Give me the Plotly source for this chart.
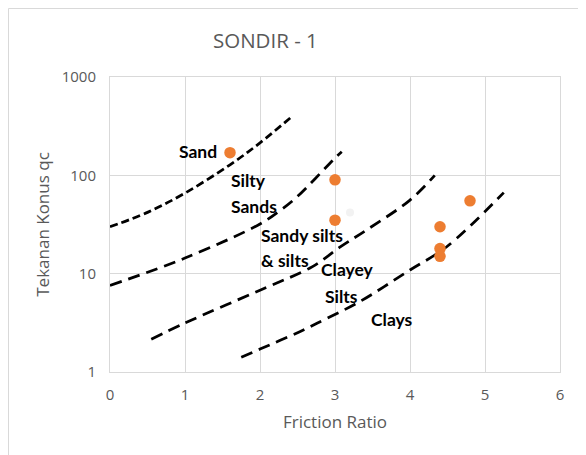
import math
import plotly.graph_objects as go

# ---- data ----
point_fr = [1.6, 3.0, 3.0, 4.4, 4.4, 4.4, 4.8]
point_qc = [170, 90, 35, 30, 18, 15, 55]
faint_fr = [3.2]
faint_qc = [42]

c1_x = [0.0, 0.5, 1.0, 1.6, 2.0, 2.44]
c1_y = [30, 42, 66, 128, 214, 405]
c2_x = [0.0, 1.0, 2.0, 2.27, 2.5, 3.0, 3.09]
c2_y = [7.6, 14.4, 32, 44, 61, 150, 174]
c3_x = [0.55, 1.0, 2.0, 2.7, 3.07, 3.42, 4.0, 4.33]
c3_y = [2.15, 3.15, 6.8, 11.8, 18.7, 27.8, 56, 100]
c4_x = [1.75, 2.0, 2.53, 2.76, 3.33, 4.0, 4.49, 5.25]
c4_y = [1.41, 1.71, 2.57, 3.13, 5.2, 10.9, 18.8, 66.7]

zone_labels = ["Sand", "Silty", "Sands", "Sandy silts", "& silts", "Clayey", "Silts", "Clays"]
label_x = [0.89, 1.587, 1.587, 1.987, 1.987, 2.787, 2.84, 3.453]
label_y = [173, 88, 48, 24.2, 13.6, 10.9, 5.9, 3.4]

x_ticks = [0, 1, 2, 3, 4, 5, 6]
y_ticks = [1, 10, 100, 1000]
y_ticktext = ["1", "10", "100", "1000"]

# page body adds an 8px offset; compensate
OFF = 8
W, H = 586 - OFF, 455 - OFF
L, R, T, B = 110 - OFF, 560 - OFF, 77 - OFF, 372 - OFF

fig = go.Figure()
curves = [(c1_x, c1_y, "8px,4px"), (c2_x, c2_y, "12px,7px"),
          (c3_x, c3_y, "12px,7px"), (c4_x, c4_y, "12px,7px")]
for cx, cy, d in curves:
    fig.add_trace(go.Scatter(x=cx, y=cy, mode="lines",
                             line=dict(color="black", width=2.75, dash=d, shape="spline"),
                             hoverinfo="skip", showlegend=False))

fig.add_trace(go.Scatter(x=faint_fr, y=faint_qc, mode="markers",
                         marker=dict(color="#F2F2F2", size=8), showlegend=False))
fig.add_trace(go.Scatter(x=point_fr, y=point_qc, mode="markers",
                         marker=dict(color="#ED7D31", size=11.5), showlegend=False))

for t, x, y in zip(zone_labels, label_x, label_y):
    fig.add_annotation(x=x, y=math.log10(y), yref="y", xref="x", text="<b>%s</b>" % t,
                       showarrow=False, xanchor="left", yanchor="middle",
                       font=dict(family="Lato, Noto Sans, sans-serif", size=17.5, color="black"))

grey = "#595959"
gridc = "#D9D9D9"

def px_x(p):
    return (p - OFF - L) / (R - L)

def px_y(p):
    return (B - (p - OFF)) / (B - T)

# chart outer border (partially visible)
fig.add_shape(type="rect", xref="paper", yref="paper",
              x0=px_x(8.5), x1=px_x(620), y0=px_y(490), y1=px_y(8.5),
              line=dict(color=gridc, width=1), fillcolor="rgba(0,0,0,0)", layer="below")

fig.add_annotation(xref="paper", yref="paper", x=px_x(265.5), y=px_y(40),
                   text="SONDIR - 1", showarrow=False, xanchor="center", yanchor="middle",
                   font=dict(family="Open Sans, Noto Sans, sans-serif", size=20.5, color=grey))

fig.update_layout(
    width=W, height=H,
    margin=dict(l=L, r=W - R, t=T, b=H - B),
    paper_bgcolor="white", plot_bgcolor="white",
    font=dict(family="Open Sans, Noto Sans, sans-serif", color=grey, size=15),
    xaxis=dict(range=[0, 6], tickvals=x_ticks, showgrid=True, gridcolor=gridc, gridwidth=1,
               showline=True, linecolor=gridc, linewidth=1, mirror=True, zeroline=False,
               ticks="", tickfont=dict(size=15, color=grey), ticklabelstandoff=9,
               title=dict(text="Friction Ratio", font=dict(size=17, color=grey), standoff=13)),
    yaxis=dict(type="log", range=[0, 3], tickvals=y_ticks, ticktext=y_ticktext,
               showgrid=True, gridcolor=gridc, gridwidth=1,
               showline=True, linecolor=gridc, linewidth=1, mirror=True, zeroline=False,
               ticks="", tickfont=dict(size=15, color=grey), ticklabelstandoff=10,
               title=dict(text="Tekanan Konus qc", font=dict(size=17, color=grey), standoff=7)),
)

fig.write_html("out.html")
